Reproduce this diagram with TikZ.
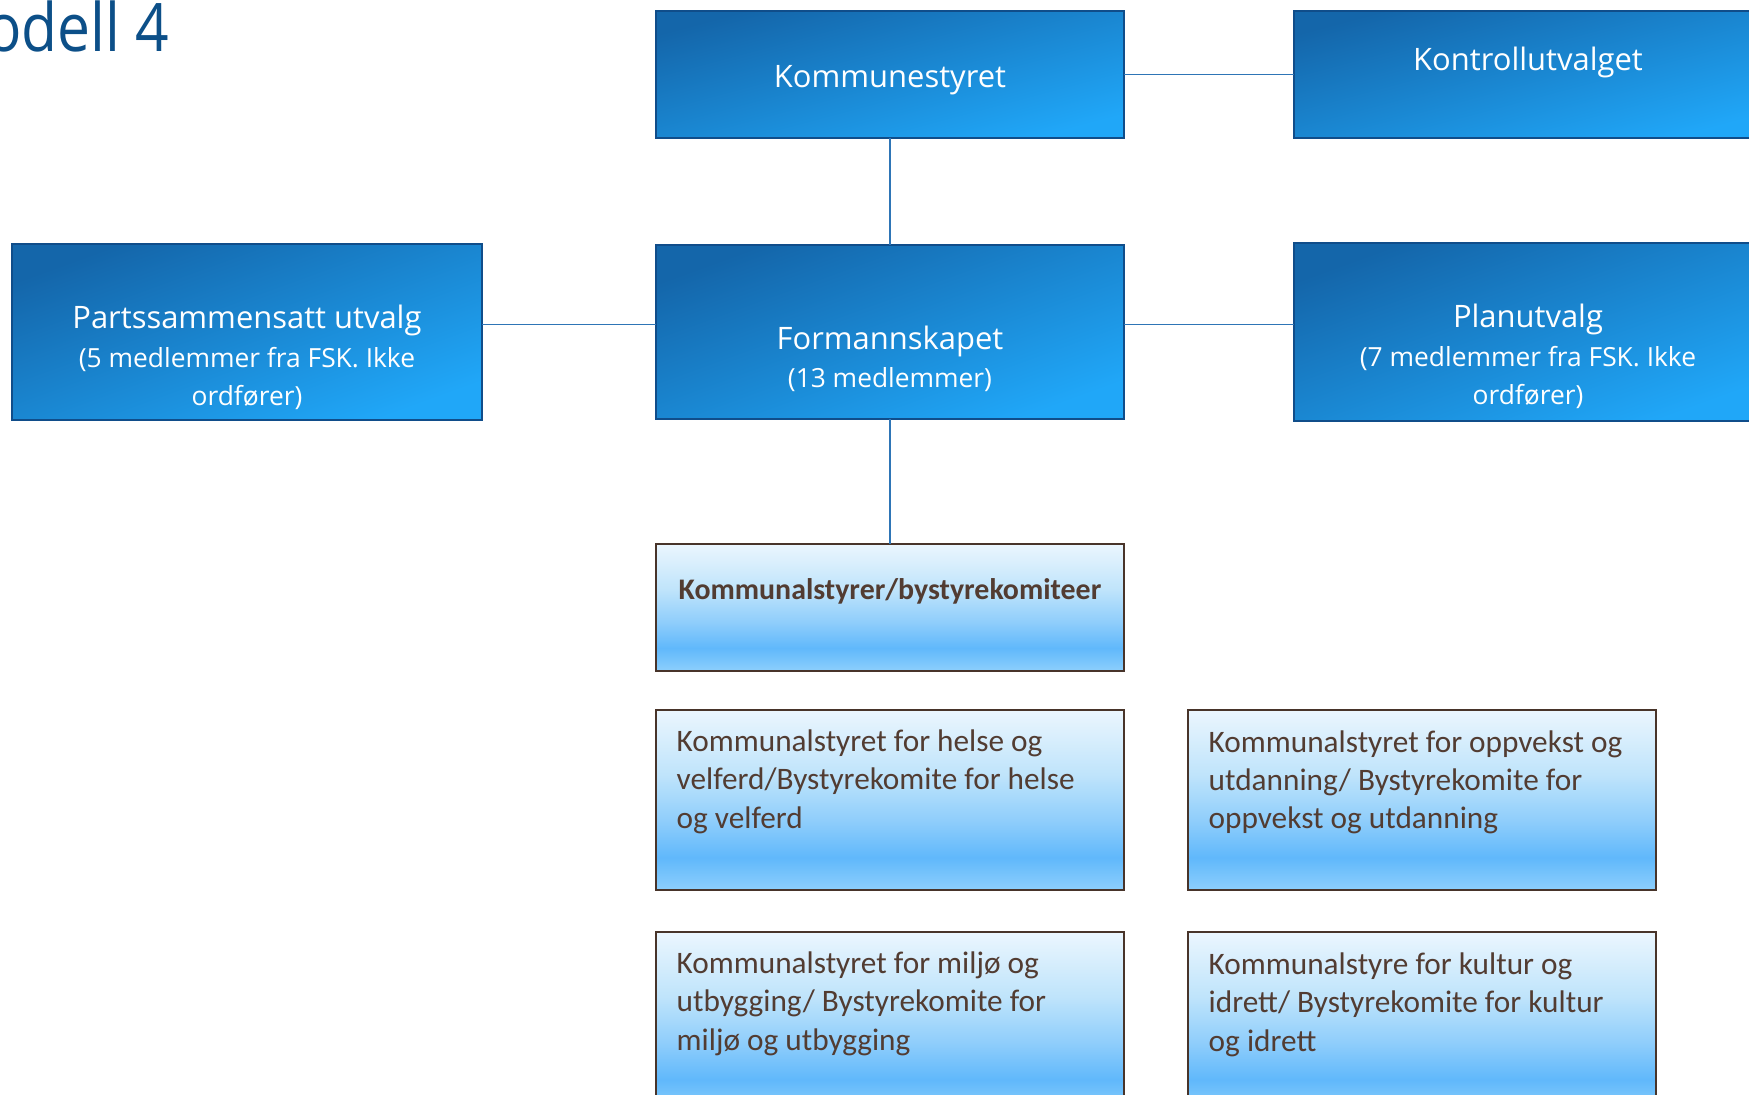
\documentclass[tikz,border=0pt]{standalone}
\usepackage{fontspec}
\setmainfont{Carlito}
\newfontfamily\segfont{Open Sans}
\newfontfamily\titlefont[FakeStretch=0.88]{Open Sans}
\usetikzlibrary{positioning}

\definecolor{dkA}{RGB}{20,102,170}
\definecolor{dkB}{RGB}{32,167,248}
\definecolor{boxedge}{RGB}{16,77,138}
\definecolor{linkblue}{RGB}{46,117,182}
\definecolor{brownedge}{RGB}{72,52,42}
\definecolor{brownink}{RGB}{82,60,50}
\definecolor{titleblue}{RGB}{12,79,136}
\definecolor{lbBot}{RGB}{141,207,252}
\definecolor{lbDeep}{RGB}{96,184,251}
\definecolor{lbMid}{RGB}{142,205,251}
\definecolor{lbPale}{RGB}{191,228,251}
\definecolor{lbTop}{RGB}{235,246,254}

\pgfdeclareverticalshading{lightblue}{100bp}{color(0bp)=(lbBot); color(25bp)=(lbBot);
  color(34bp)=(lbDeep); color(44bp)=(lbMid); color(57bp)=(lbPale);
  color(75bp)=(lbTop); color(100bp)=(lbTop)}

\begin{document}
\begin{tikzpicture}[
    node distance=1cm,
    darkbox/.style={rectangle, draw=boxedge, line width=0.7pt, outer sep=0pt,
                    top color=dkA, bottom color=dkB, shading angle=15},
    lightbox/.style={rectangle, draw=brownedge, line width=0.8pt, outer sep=0pt,
                     shade, shading=lightblue},
    whitetxt/.style={text=white, font=\segfont\fontsize{7.5}{11}\selectfont,
                     align=center, inner sep=0pt},
    browntxt/.style={text=brownink, font=\fontsize{8.9}{10.95}\selectfont,
                     align=left, inner sep=0pt},
    link/.style={draw=linkblue, line width=0.5pt}
]
    \useasboundingbox (0,0) rectangle (17.49,-10.95);
    \clip (0,0) rectangle (17.49,-10.95);

    % boxes
    \node (kst) [darkbox, minimum width=4.68cm, minimum height=1.27cm] at (8.90,-0.745) {};
    \node (kontroll) [darkbox, minimum width=4.68cm, minimum height=1.27cm, right=1.70cm of kst] {};
    \node (fsk) [darkbox, shading angle=20, minimum width=4.68cm, minimum height=1.74cm, below=1.07cm of kst] {};
    \node (partsu) [darkbox, shading angle=20, minimum width=4.70cm, minimum height=1.76cm, left=1.74cm of fsk] {};
    \node (plan) [darkbox, shading angle=20, minimum width=4.68cm, minimum height=1.78cm, right=1.70cm of fsk] {};
    \node (komm) [lightbox, minimum width=4.68cm, minimum height=1.27cm, below=1.25cm of fsk] {};
    \node (helse) [lightbox, minimum width=4.68cm, minimum height=1.80cm, below=0.39cm of komm] {};
    \node (oppvekst) [lightbox, minimum width=4.68cm, minimum height=1.80cm, right=0.64cm of helse] {};
    \node (miljo) [lightbox, minimum width=4.68cm, minimum height=1.80cm, below=0.42cm of helse] {};
    \node (kultur) [lightbox, minimum width=4.68cm, minimum height=1.80cm, right=0.64cm of miljo] {};

    % texts
    \node (title) [text=titleblue, font=\titlefont\fontsize{19}{22}\selectfont,
                   anchor=base east, inner sep=0pt] at (1.70,-0.52) {Modell 4};
    \node (kst-lbl) [whitetxt, anchor=base, font=\segfont\fontsize{8.8}{11}\selectfont]
        at ([yshift=-0.135cm]kst.center) {Kommunestyret};
    \node (kontroll-lbl) [whitetxt, anchor=base, font=\segfont\fontsize{8.8}{11}\selectfont]
        at ([yshift=0.035cm]kontroll.center) {Kontrollutvalget};
    \node (fsk-lbl) [whitetxt, anchor=base] at ([yshift=-0.56cm]fsk.center)
        {{\fontsize{8.8}{11}\selectfont Formannskapet}\\(13 medlemmer)};
    \node (partsu-lbl) [whitetxt, anchor=base] at ([yshift=-0.74cm]partsu.center)
        {{\fontsize{8.8}{11}\selectfont Partssammensatt utvalg}\\(5 medlemmer fra FSK. Ikke\\ordfører)};
    \node (plan-lbl) [whitetxt, anchor=base] at ([yshift=-0.73cm]plan.center)
        {{\fontsize{8.8}{11}\selectfont Planutvalg}\\(7 medlemmer fra FSK. Ikke\\ordfører)};
    \node (komm-lbl) [browntxt, anchor=base, font=\bfseries\fontsize{8.5}{10.5}\selectfont]
        at ([yshift=0.075cm]komm.center) {Kommunalstyrer/bystyrekomiteer};
    \node (helse-lbl) [browntxt, anchor=base west] at ([xshift=0.20cm,yshift=-1.18cm]helse.north west)
        {Kommunalstyret for helse og\\velferd/Bystyrekomite for helse\\og velferd};
    \node (oppvekst-lbl) [browntxt, anchor=base west] at ([xshift=0.20cm,yshift=-1.19cm]oppvekst.north west)
        {Kommunalstyret for oppvekst og\\utdanning/ Bystyrekomite for\\oppvekst og utdanning};
    \node (miljo-lbl) [browntxt, anchor=base west] at ([xshift=0.20cm,yshift=-1.18cm]miljo.north west)
        {Kommunalstyret for miljø og\\utbygging/ Bystyrekomite for\\miljø og utbygging};
    \node (kultur-lbl) [browntxt, anchor=base west] at ([xshift=0.20cm,yshift=-1.19cm]kultur.north west)
        {Kommunalstyre for kultur og\\idrett/ Bystyrekomite for kultur\\og idrett};

    % connectors
    \draw [link] (kst) -- (fsk);
    \draw [link] (kst) -- (kontroll);
    \draw [link] ([yshift=0.075cm]partsu.east) -- ([yshift=0.075cm]fsk.west);
    \draw [link] ([yshift=0.075cm]fsk.east) -- ([yshift=0.075cm]plan.west);
    \draw [link] (fsk) -- (komm);

\end{tikzpicture}
\end{document}
